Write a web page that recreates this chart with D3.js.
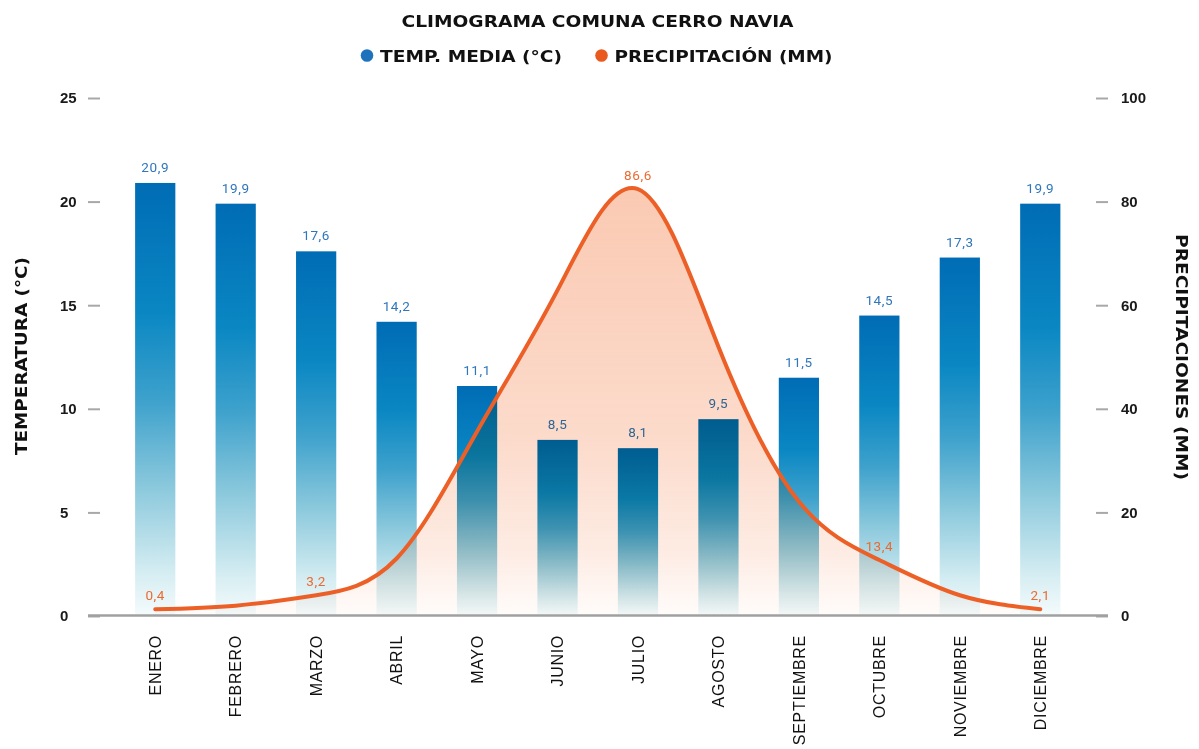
<!DOCTYPE html>
<html>
<head>
<meta charset="utf-8">
<script src="https://cdn.jsdelivr.net/npm/d3@7"></script>
<style>
  html, body { margin: 0; padding: 0; background: #fff; }
  svg { display: block; }
</style>
</head>
<body>
<svg id="chart" width="1199" height="749"></svg>
<script>
// ---------- DATA ----------
const meses = ["ENERO","FEBRERO","MARZO","ABRIL","MAYO","JUNIO","JULIO","AGOSTO","SEPTIEMBRE","OCTUBRE","NOVIEMBRE","DICIEMBRE"];
const temperatura = [20.9, 19.9, 17.6, 14.2, 11.1, 8.5, 8.1, 9.5, 11.5, 14.5, 17.3, 19.9];
// precipitation curve as drawn (read against the right axis)
const precipitacion = [1.3, 2.0, 4.0, 11.1, 35.6, 62.9, 82.4, 52.0, 22.1, 10.8, 4.0, 1.3];
// precipitation labels shown on the chart (empty = not shown)
const etiquetasPrecip = ["0,4", "", "3,2", "", "", "", "86,6", "", "", "13,4", "", "2,1"];
const ticksTemp = [0, 5, 10, 15, 20, 25];
const ticksPrecip = [0, 20, 40, 60, 80, 100];
const titulo = "CLIMOGRAMA COMUNA CERRO NAVIA";
const leyenda = ["TEMP. MEDIA (°C)", "PRECIPITACIÓN (MM)"];
const tituloEjeIzq = "TEMPERATURA (°C)";
const tituloEjeDer = "PRECIPITACIONES (MM)";

// ---------- SETUP ----------
const svg = d3.select("#chart");
const fmt = v => String(v.toFixed(1)).replace(".", ",");

const x = d3.scaleBand().domain(meses).range([115, 1080.5]).paddingInner(0.5).paddingOuter(0.25);
const yT = d3.scaleLinear().domain([0, 25]).range([616, 98]);
const yP = d3.scaleLinear().domain([0, 100]).range([616, 98]);
const cx = m => x(m) + x.bandwidth() / 2;

const defs = svg.append("defs");
const gBar = defs.append("linearGradient").attr("id", "gBar")
  .attr("x1", 0).attr("y1", 0).attr("x2", 0).attr("y2", 1);
[[0, "#006cb5"], [0.3, "#0a87c3"], [0.5, "#3da1cc"], [0.7, "#8ac8dc"], [0.9, "#d5edf2"], [1, "#f5fbfc"]]
  .forEach(([o, c]) => gBar.append("stop").attr("offset", o).attr("stop-color", c));

const gArea = defs.append("linearGradient").attr("id", "gArea")
  .attr("x1", 0).attr("y1", 0).attr("x2", 0).attr("y2", 1);
[[0, 0.36], [0.6, 0.24], [0.85, 0.13], [1, 0.02]]
  .forEach(([o, a]) => gArea.append("stop").attr("offset", o).attr("stop-color", "#f26a2a").attr("stop-opacity", a));

// ---------- BARS ----------
svg.append("g").selectAll("rect").data(temperatura).join("rect")
  .attr("x", (d, i) => x(meses[i]))
  .attr("y", d => yT(d))
  .attr("width", x.bandwidth())
  .attr("height", d => yT(0) - yT(d))
  .attr("fill", "url(#gBar)");

svg.append("g").selectAll("text").data(temperatura).join("text")
  .attr("x", (d, i) => cx(meses[i]))
  .attr("y", d => yT(d) - 11)
  .attr("text-anchor", "middle")
  .style("font-family", "Roboto, 'Liberation Sans', sans-serif")
  .style("font-size", "13.5px")
  .style("letter-spacing", "0.6px")
  .attr("fill", "#2f76bb")
  .text(d => fmt(d));

// ---------- PRECIPITATION AREA + LINE ----------
const pts = precipitacion.map((v, i) => [cx(meses[i]), v]);
const curva = d3.curveNatural;
const area = d3.area().x(d => d[0]).y0(yP(0)).y1(d => yP(d[1])).curve(curva);
const line = d3.line().x(d => d[0]).y(d => yP(d[1])).curve(curva);

svg.append("path").datum(pts)
  .attr("d", area)
  .attr("fill", "url(#gArea)")
  .style("mix-blend-mode", "multiply");

svg.append("path").datum(pts)
  .attr("d", line)
  .attr("fill", "none")
  .attr("stroke", "#ec6028")
  .attr("stroke-width", 4)
  .attr("stroke-linecap", "round");

svg.append("g").selectAll("text").data(precipitacion).join("text")
  .attr("x", (d, i) => cx(meses[i]))
  .attr("y", d => yP(d) - 9)
  .attr("text-anchor", "middle")
  .style("font-family", "Roboto, 'Liberation Sans', sans-serif")
  .style("font-size", "13.5px")
  .style("letter-spacing", "0.6px")
  .attr("fill", "#ec6a30")
  .text((d, i) => etiquetasPrecip[i]);

// ---------- AXES ----------
const tickColor = "#a8a8a8";
const axL = svg.append("g").attr("transform", "translate(100,0)")
  .call(d3.axisLeft(yT).tickValues(ticksTemp).tickSize(12).tickFormat(d3.format("d")));
axL.select(".domain").remove();
axL.selectAll("line").attr("stroke", tickColor).attr("stroke-width", 2);
axL.selectAll("text").attr("text-anchor", "start").attr("x", -40)
  .style("font-family", "'Liberation Sans', Arial, sans-serif").style("font-size", "15px")
  .style("font-weight", "700").attr("fill", "#1a1a1a");

const axR = svg.append("g").attr("transform", "translate(1096,0)")
  .call(d3.axisRight(yP).tickValues(ticksPrecip).tickSize(12).tickPadding(13).tickFormat(d3.format("d")));
axR.select(".domain").remove();
axR.selectAll("line").attr("stroke", tickColor).attr("stroke-width", 2);
axR.selectAll("text")
  .style("font-family", "'Liberation Sans', Arial, sans-serif").style("font-size", "15px")
  .style("font-weight", "700").attr("fill", "#1a1a1a");

// baseline
svg.append("line").attr("x1", 88).attr("x2", 1108).attr("y1", yT(0) - 0.5).attr("y2", yT(0) - 0.5)
  .attr("stroke", "#a0a0a0").attr("stroke-width", 2.5);

// x axis labels
const axB = svg.append("g").attr("transform", `translate(0,${yT(0)})`)
  .call(d3.axisBottom(x).tickSize(0));
axB.select(".domain").remove();
axB.selectAll("text")
  .attr("transform", "rotate(-90)")
  .attr("x", -19).attr("y", 0).attr("dy", "0.36em")
  .attr("text-anchor", "end")
  .style("font-family", "'Liberation Sans', Arial, sans-serif")
  .style("font-size", "16px")
  .style("letter-spacing", "0.7px")
  .attr("fill", "#111");

// ---------- TITLES ----------
const headFont = "'DejaVu Sans', sans-serif";
svg.append("text").attr("x", 401.5).attr("y", 26.5)
  .attr("textLength", 392).attr("lengthAdjust", "spacingAndGlyphs")
  .style("font-family", headFont).style("font-weight", "700").style("font-size", "16px")
  .attr("fill", "#111").text(titulo);

const legX = [[367, 380, 182, "#1f73bd"], [601.5, 614.5, 218, "#e95a1e"]];
leyenda.forEach((t, i) => {
  const [dx, tx, tl, col] = legX[i];
  svg.append("circle").attr("cx", dx).attr("cy", 55.5).attr("r", 6.3).attr("fill", col);
  svg.append("text").attr("x", tx).attr("y", 62)
    .attr("textLength", tl).attr("lengthAdjust", "spacingAndGlyphs")
    .style("font-family", headFont).style("font-weight", "700").style("font-size", "16.5px")
    .attr("fill", "#111").text(t);
});

svg.append("text").attr("transform", "translate(27,356) rotate(-90)")
  .attr("text-anchor", "middle").attr("textLength", 198).attr("lengthAdjust", "spacingAndGlyphs")
  .style("font-family", headFont).style("font-weight", "700").style("font-size", "16px")
  .attr("fill", "#111").text(tituloEjeIzq);

svg.append("text").attr("transform", "translate(1176,357) rotate(90)")
  .attr("text-anchor", "middle").attr("textLength", 246).attr("lengthAdjust", "spacingAndGlyphs")
  .style("font-family", headFont).style("font-weight", "700").style("font-size", "16px")
  .attr("fill", "#111").text(tituloEjeDer);
</script>
</body>
</html>
